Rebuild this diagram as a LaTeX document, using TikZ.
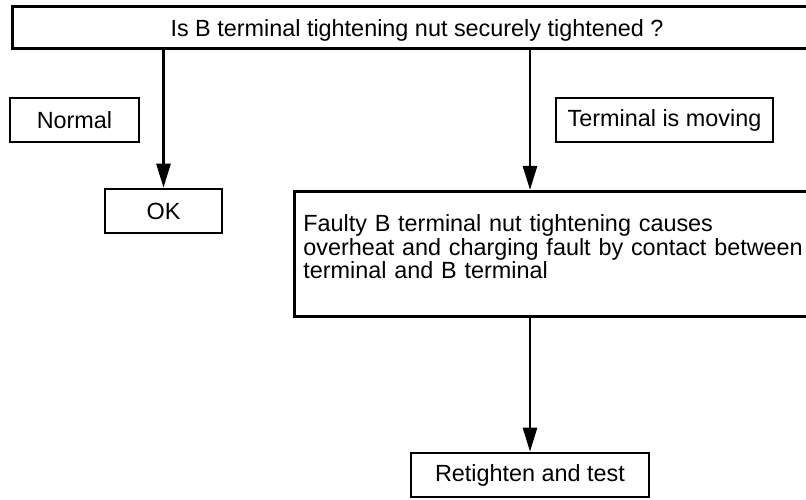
\documentclass[tikz,border=0pt]{standalone}
\usepackage{fontspec}
\setmainfont{Liberation Sans}
\usetikzlibrary{arrows.meta}

\tikzset{
  txt/.style={inner sep=0pt, font=\fontsize{23.4}{23.8}\selectfont},
  box/.style={txt, draw, line width=2.6pt},
  flow/.style={-{Triangle[length=24pt, width=14pt]}, line width=2.6pt},
}

\begin{document}
\begin{tikzpicture}[x=1pt, y=-1pt]
    \clip (0,0) rectangle (806,500);
    % question
    \node[box, anchor=north west, minimum width=820pt, minimum height=42.5pt] (q) at (11,5) {};
    \node[txt, anchor=base] (qtext) at (417,36.5) {Is B terminal tightening nut securely tightened ?};
    % answers
    \node[box, minimum width=129pt, minimum height=44pt] (normal) at (74.5,120) {Normal};
    \node[box, minimum width=217pt, minimum height=44pt] (moving) at (664.5,120) {Terminal is moving};
    \node[box, minimum width=117pt, minimum height=44pt] (ok) at (163.5,211) {OK};
    \node[box, anchor=north west, text height=40pt, text depth=85pt, text width=540pt,
          align=left, inner xsep=9pt, inner ysep=0pt] (cause) at (293,190)
          {Faulty B terminal nut tightening causes\\
           overheat and charging fault by contact between\\
           terminal and B terminal};
    \node[box, minimum width=238pt, minimum height=44pt] (retest) at (530,475) {Retighten and test};
    % arrows
    \draw[flow] (q.south -| ok.north) -- (ok.north);
    \draw[flow] (q.south -| retest.north) -- (cause.north -| retest.north);
    \draw[flow] (cause.south -| retest.north) -- (retest.north);
\end{tikzpicture}
\end{document}
